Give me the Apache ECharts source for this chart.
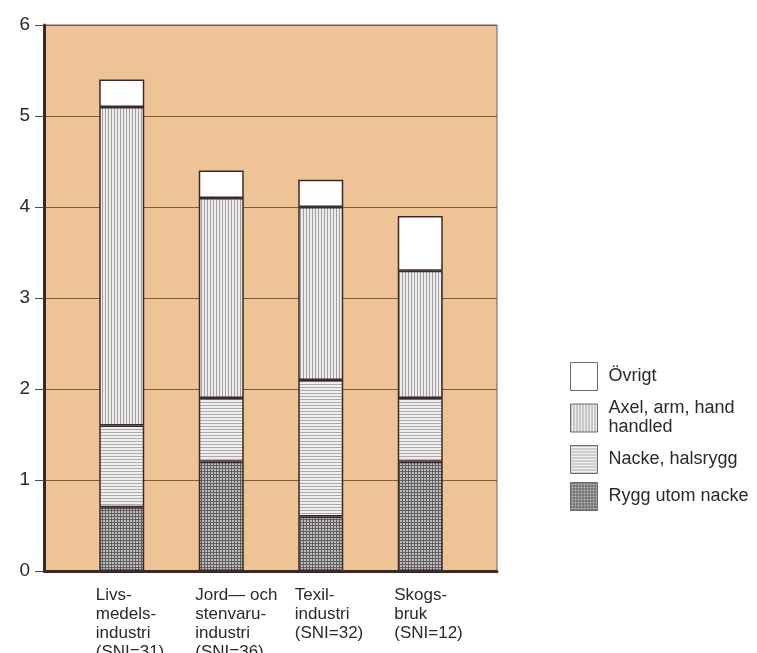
<!DOCTYPE html>
<html>
<head>
<meta charset="utf-8">
<script src="https://cdn.jsdelivr.net/npm/echarts@6/dist/echarts.min.js"></script>
<style>
html,body{margin:0;padding:0;background:#fff;}
#c{width:757px;height:653px;}
</style>
</head>
<body>
<div id="c"></div>
<script>
// ---- data ----
var categories = [
  ['Livs-', 'medels-', 'industri', '(SNI=31)'],
  ['Jord\u2014 och', 'stenvaru-', 'industri', '(SNI=36)'],
  ['Texil-', 'industri', '(SNI=32)'],
  ['Skogs-', 'bruk', '(SNI=12)']
];
var seriesNames = ['Rygg utom nacke', 'Nacke, halsrygg', 'Axel, arm, hand\nhandled', '\u00D6vrigt'];
var ryggData = [0.7, 1.2, 0.6, 1.2];
var nackeData = [0.9, 0.7, 1.5, 0.7];
var axelData = [3.5, 2.2, 1.9, 1.4];
var ovrigtData = [0.3, 0.3, 0.3, 0.6];
var yTicks = [0, 1, 2, 3, 4, 5, 6];

// ---- patterns ----
function makePattern(bg, line, mode, step) {
  var cv = document.createElement('canvas');
  cv.width = step; cv.height = step;
  var ctx = cv.getContext('2d');
  ctx.fillStyle = bg; ctx.fillRect(0, 0, step, step);
  ctx.fillStyle = line;
  if (mode === 'v' || mode === 'x') ctx.fillRect(0, 0, 1, step);
  if (mode === 'h' || mode === 'x') ctx.fillRect(0, 0, step, 1);
  return { image: cv, repeat: 'repeat' };
}
var patAxel = makePattern('#ececec', '#a0a0a0', 'v', 3);
var patNacke = makePattern('#eeeeee', '#acacac', 'h', 3);
var patRygg = makePattern('#bcbcbc', '#606060', 'x', 3);

var chart = echarts.init(document.getElementById('c'), null, { renderer: 'canvas' });
var catKeys = categories.map(function (c, i) { return String(i); });
var font = 'Liberation Sans, Arial, sans-serif';
var border = '#3b2a2a';

function barSeries(name, data, color) {
  return {
    name: name, type: 'bar', stack: 'all', xAxisIndex: 1, yAxisIndex: 1,
    data: data, barWidth: 45,
    itemStyle: { color: color, borderColor: border, borderWidth: 1.5 }
  };
}

var option = {
  animation: false,
  backgroundColor: '#ffffff',
  textStyle: { fontFamily: font },
  grid: [
    { left: 44, right: 260, top: 25, bottom: 82, show: true, backgroundColor: '#EEC395', borderColor: '#7a5a50', borderWidth: 1, containLabel: false, outerBoundsMode: 'none' },
    { left: 72, width: 398, top: 25, bottom: 82, containLabel: false, outerBoundsMode: 'none' }
  ],
  xAxis: [
    { gridIndex: 0, type: 'category', data: catKeys, axisLabel: { show: false }, axisTick: { show: false },
      axisLine: { show: true, lineStyle: { color: '#3b2a2a', width: 3 } } },
    { gridIndex: 1, type: 'category', data: catKeys, axisTick: { show: false }, axisLine: { show: false },
      axisLabel: {
        margin: 15, interval: 0, align: 'center', verticalAlign: 'top',
        formatter: function (v) {
          return categories[+v].map(function (s) { return '{a|' + s + '}'; }).join('\n');
        },
        rich: { a: { width: 52, align: 'left', fontSize: 17, lineHeight: 19, color: '#2a2a2a', fontFamily: font } }
      } }
  ],
  yAxis: [
    { gridIndex: 0, type: 'value', min: yTicks[0], max: yTicks[yTicks.length - 1], interval: 1,
      axisLine: { show: true, lineStyle: { color: '#3b2a2a', width: 3 } },
      axisTick: { show: true, length: 9, lineStyle: { color: '#5a4a4a', width: 1 } },
      axisLabel: { fontSize: 19, color: '#2a2a2a', margin: 14, fontFamily: font },
      splitLine: { show: true, lineStyle: { color: '#7a5a45', width: 1 } } },
    { gridIndex: 1, type: 'value', min: 0, max: 6, show: false, splitLine: { show: false } }
  ],
  legend: {
    orient: 'vertical', left: 565, top: 357,
    icon: 'rect',
    itemWidth: 27, itemHeight: 28, itemGap: 8,
    data: [seriesNames[3], seriesNames[2], seriesNames[1], seriesNames[0]],
    textStyle: { fontSize: 18, color: '#2a2a2a', lineHeight: 19, fontFamily: font, padding: [0, 0, 0, 6] },
    itemStyle: { borderColor: '#6a6a6a', borderWidth: 1 }
  },
  series: [
    barSeries(seriesNames[0], ryggData, patRygg),
    barSeries(seriesNames[1], nackeData, patNacke),
    barSeries(seriesNames[2], axelData, patAxel),
    barSeries(seriesNames[3], ovrigtData, '#ffffff')
  ]
};
chart.setOption(option);
</script>
</body>
</html>
